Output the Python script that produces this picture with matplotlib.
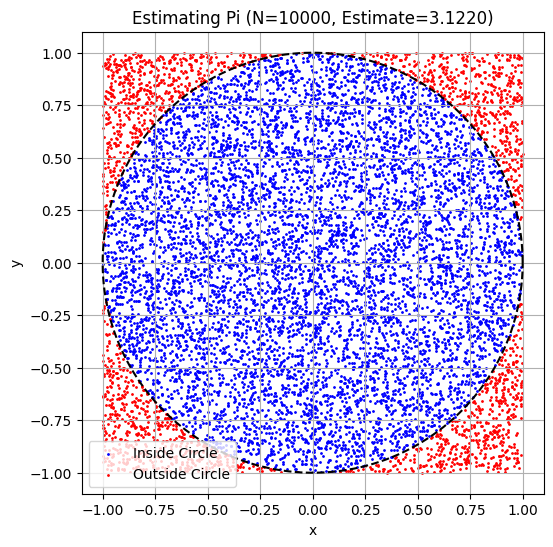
import numpy as np
import matplotlib
matplotlib.use('Agg')
import matplotlib.pyplot as plt

# Values from the reference
n_points = 10000
estimate_text = '3.1220'
labels = ['Inside Circle', 'Outside Circle']
colors = ['blue', 'red']

# The 10000 scattered points cannot be read one by one from the picture;
# they are a uniform sample in the square, regenerated with a fixed seed
np.random.seed(42)
x = np.random.uniform(-1, 1, n_points)
y = np.random.uniform(-1, 1, n_points)
inside = x**2 + y**2 <= 1

theta = np.linspace(0, 2 * np.pi, 400)

plt.figure(figsize=(6, 6))
plt.scatter(x[inside], y[inside], color=colors[0], s=1, label=labels[0])
plt.scatter(x[~inside], y[~inside], color=colors[1], s=1, label=labels[1])
plt.plot(np.cos(theta), np.sin(theta), 'k--', linewidth=1.5)
plt.title(f'Estimating Pi (N={n_points}, Estimate={estimate_text})')
plt.xlabel('x')
plt.ylabel('y')
plt.legend(loc='lower left')
plt.gca().set_aspect('equal')
plt.grid(True)
plt.savefig('out.png', dpi=100, bbox_inches='tight')
